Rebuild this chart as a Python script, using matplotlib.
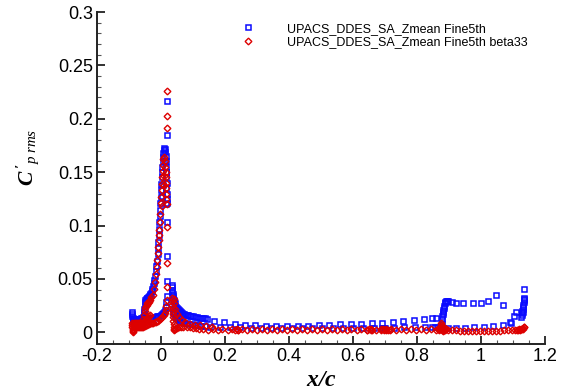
import matplotlib
matplotlib.use("Agg")
import matplotlib.pyplot as plt

# ---------------- data ----------------
# Series 1: UPACS_DDES_SA_Zmean Fine5th (blue squares)
b_slat_x = [-0.091,-0.090,-0.090,-0.089,-0.088,-0.087,-0.086,-0.085,
            -0.084,-0.081,-0.078,-0.075,-0.072,-0.069,-0.066,-0.063,-0.060,-0.057,-0.055,-0.054,-0.053,-0.052,-0.051,-0.050,-0.049,-0.047,-0.045,-0.043,-0.041,-0.039,-0.037,-0.035,-0.033,-0.031,
            -0.029,-0.027,-0.025,-0.023,-0.021,-0.019,-0.017,-0.015,-0.013,-0.011,-0.009,-0.008,-0.007,-0.006,-0.005,-0.004,-0.003,-0.002,-0.001,0.000,0.001,0.002,0.003,0.004,0.005,0.006,0.007,0.008,0.009,
            0.011,0.013,0.014,0.015,0.016,0.017,0.016,0.018,0.017,0.019,0.018,0.016,0.014,0.012,0.003,0.006,
            0.019,0.019,0.019,0.019,0.019,0.019,
            0.018,0.017,0.015,0.013,0.010,0.007,0.004,0.000,-0.004,-0.008,-0.012,-0.016,-0.020,-0.024,-0.028,-0.032,-0.036,-0.040,-0.044,-0.048]
b_slat_y = [0.017,0.019,0.015,0.013,0.012,0.011,0.011,0.012,
            0.012,0.012,0.012,0.012,0.012,0.012,0.012,0.013,0.013,0.013,0.014,0.016,0.019,0.022,0.025,0.028,0.030,0.031,0.032,0.032,0.033,0.033,0.034,0.035,0.036,0.037,
            0.039,0.041,0.043,0.046,0.049,0.053,0.057,0.062,0.067,0.073,0.079,0.085,0.091,0.097,0.103,0.109,0.115,0.121,0.127,0.133,0.139,0.145,0.150,0.155,0.160,0.164,0.168,0.171,0.173,
            0.172,0.169,0.165,0.160,0.155,0.150,0.145,0.140,0.135,0.130,0.125,0.120,0.150,0.160,0.128,0.138,
            0.217,0.185,0.121,0.103,0.071,0.048,
            0.034,0.028,0.024,0.021,0.019,0.018,0.017,0.016,0.0155,0.015,0.0148,0.0145,0.014,0.0138,0.0135,0.013,0.013,0.0128,0.0125,0.0125]

b_main_x = [0.033,0.034,0.035,0.035,0.036,0.037,0.038,0.039,0.040,0.041,0.043,0.045,0.047,0.049,0.052,0.055,0.058,0.061,0.064,0.068,0.072,0.076,0.080,0.085,0.090,0.095,0.100,0.106,0.112,0.118,0.124,0.130,0.137,0.145,
            0.036,0.038,0.040,0.043,0.046,0.050,0.055,0.060,0.066,0.073,0.080,0.088,0.096,0.105,0.115,0.126,0.138,
            0.166,0.197,0.231,0.263,0.294,0.328,0.359,0.394,0.428,0.459,0.494,0.525,0.559,0.594,0.625,0.659,0.691,0.725,0.756,0.791,0.822,0.847,0.860,
            0.152,0.184,0.216,0.248,0.280,0.312,0.344,0.376,0.408,0.440,0.472,0.504,0.536,0.568,0.600,0.632,0.664,0.690,0.696,0.700,0.728,0.760,0.792,0.824,0.846,0.856,0.866]
b_main_y = [0.044,0.042,0.040,0.038,0.036,0.034,0.032,0.030,0.029,0.028,0.027,0.025,0.024,0.023,0.022,0.021,0.020,0.019,0.018,0.0175,0.017,0.0165,0.016,0.0158,0.0155,0.015,0.0148,0.0145,0.014,0.0138,0.0135,0.0132,0.013,0.0125,
            0.022,0.019,0.017,0.015,0.0135,0.012,0.011,0.010,0.0095,0.009,0.0085,0.008,0.0075,0.007,0.0065,0.006,0.0055,
            0.0103,0.0094,0.0075,0.0066,0.0066,0.0056,0.0056,0.0056,0.0056,0.0056,0.0066,0.0066,0.0075,0.0075,0.0075,0.0084,0.0084,0.0094,0.0103,0.0112,0.0122,0.0131,0.0131,
            0.005,0.0048,0.0046,0.0045,0.0044,0.0043,0.0042,0.0042,0.0042,0.0042,0.0042,0.0042,0.0042,0.0042,0.0042,0.0042,0.0043,0.0043,0.0043,0.0044,0.0044,0.0045,0.0045,0.0046,0.0046,0.0046,0.0046]

b_flap_x = [0.874,0.876,0.877,0.878,0.879,0.880,0.881,0.882,0.883,0.884,0.886,0.888,0.891,0.894,
            0.897,0.908,0.922,0.944,0.974,1.000,1.023,1.047,1.070,1.133,
            1.125,1.127,1.128,1.129,1.130,1.131,1.132,1.133,1.134,1.135,1.133,1.131,
            1.110,1.104,1.091,1.093,1.068,1.038,1.008,0.979,0.950,0.922,0.896]
b_flap_y = [0.004,0.006,0.009,0.012,0.015,0.017,0.019,0.021,0.023,0.025,0.027,0.028,0.029,0.029,
            0.029,0.0285,0.0275,0.027,0.027,0.0275,0.0294,0.0347,0.0253,0.041,
            0.014,0.016,0.018,0.020,0.022,0.024,0.026,0.028,0.030,0.031,0.032,0.019,
            0.019,0.015,0.0097,0.0084,0.0066,0.006,0.005,0.005,0.0044,0.0044,0.004]

# Series 2: UPACS_DDES_SA_Zmean Fine5th beta33 (red diamonds)
r_slat_x = [-0.091,-0.090,-0.090,-0.089,-0.089,-0.088,-0.087,-0.086,-0.085,
            -0.084,-0.081,-0.078,-0.075,-0.072,-0.069,-0.066,-0.063,-0.060,-0.057,-0.054,-0.051,-0.048,-0.045,-0.042,-0.039,-0.036,
            -0.083,-0.080,-0.077,-0.074,-0.071,-0.068,-0.065,-0.062,-0.059,-0.056,-0.053,-0.050,-0.047,-0.044,-0.041,-0.038,-0.035,
            0.017,0.014,0.011,0.008,0.004,0.000,-0.004,-0.008,-0.012,-0.016,-0.020,-0.024,-0.028,-0.032,
            -0.055,-0.053,-0.051,-0.049,-0.047,-0.045,-0.043,-0.041,-0.039,-0.037,
            -0.034,-0.030,-0.026,-0.022,-0.019,-0.016,-0.013,-0.012,-0.010,-0.008,-0.007,-0.006,-0.005,-0.003,-0.003,0.000,
            0.001,0.002,0.003,0.004,0.005,0.006,0.007,0.009,0.011,0.013,0.014,0.015,0.016,0.015,0.017,0.016,0.018,0.008,0.004,0.010,
            0.019,0.019,0.020,0.020,0.019,0.019,0.019]
r_slat_y = [0.009,0.007,0.005,0.003,0.001,0.000,0.002,0.004,0.006,
            0.005,0.005,0.0048,0.0048,0.0046,0.0046,0.0046,0.0048,0.005,0.0052,0.0055,0.006,0.0065,0.007,0.0075,0.008,0.0085,
            0.009,0.0088,0.0086,0.0085,0.0085,0.0085,0.0086,0.0088,0.009,0.0095,0.010,0.011,0.012,0.013,0.014,0.015,0.016,
            0.025,0.021,0.018,0.016,0.014,0.013,0.012,0.011,0.0105,0.010,0.0095,0.009,0.0088,0.0085,
            0.012,0.016,0.020,0.023,0.025,0.026,0.027,0.027,0.028,0.029,
            0.030,0.033,0.035,0.041,0.047,0.055,0.061,0.0675,0.074,0.080,0.086,0.091,0.096,0.103,0.111,0.121,
            0.127,0.133,0.139,0.145,0.151,0.157,0.162,0.164,0.160,0.155,0.150,0.145,0.140,0.135,0.130,0.125,0.120,0.146,0.118,0.138,
            0.226,0.203,0.191,0.099,0.065,0.042,0.030]

r_main_x = [0.034,0.035,0.035,0.036,0.036,0.037,0.037,0.038,0.039,0.040,0.041,
            0.039,0.042,0.045,0.049,0.055,0.065,0.075,0.090,0.105,0.122,0.140,0.160,
            0.040,0.045,0.050,0.056,0.063,0.070,0.080,0.090,0.100,0.110,0.120,
            0.130,0.161,0.192,0.223,0.254,0.285,0.316,0.347,0.378,0.409,0.440,0.471,0.502,0.533,0.564,0.595,0.626,0.657,0.688,0.719,0.750,0.781,0.812,0.843,
            0.146,0.177,0.208,0.239,0.270,0.301,0.332,0.363,0.394,0.425,0.456,0.487,0.518,0.549,0.580,0.611,0.642,0.673,0.704,0.735,0.766,0.797,0.828,0.858,
            0.232,0.236,0.240,0.645,0.650,0.655,0.660,0.686,0.692,0.698,0.704,0.710,0.716]
r_main_y = [0.032,0.029,0.026,0.023,0.020,0.017,0.014,0.011,0.008,0.005,0.003,
            0.0316,0.027,0.022,0.0175,0.014,0.0112,0.0095,0.008,0.007,0.0066,0.0055,0.0048,
            0.002,0.003,0.004,0.0045,0.005,0.005,0.0048,0.0045,0.004,0.0038,0.0035,
            0.0032,0.0030,0.0030,0.0028,0.0028,0.0028,0.0028,0.0028,0.0028,0.0028,0.0028,0.0028,0.0028,0.0028,0.0028,0.0028,0.0028,0.0028,0.0028,0.0028,0.0028,0.0028,0.0030,0.0030,
            0.0024,0.0022,0.0022,0.0022,0.0022,0.0022,0.0022,0.0022,0.0022,0.0022,0.0022,0.0022,0.0022,0.0022,0.0022,0.0022,0.0022,0.0022,0.0022,0.0022,0.0022,0.0022,0.0022,0.0024,
            0.0025,0.003,0.002,0.002,0.003,0.0025,0.002,0.002,0.003,0.0022,0.0030,0.0025,0.002]

r_flap_x = [0.866,0.868,0.870,0.872,0.874,0.875,0.876,0.877,0.878,0.879,0.880,0.882,0.884,0.886,0.888,0.890,
            0.897,0.910,0.922,0.935,0.947,0.960,0.972,0.985,0.997,1.010,1.022,1.035,1.047,1.060,1.072,1.085,1.097,1.107,
            1.112,1.116,1.120,1.123,1.126,1.128,1.130,1.132,1.134,1.135]
r_flap_y = [0.003,0.002,0.004,0.003,0.005,0.007,0.009,0.006,0.004,0.002,0.001,0.003,0.002,0.004,0.002,0.003,
            0.002,0.0018,0.0018,0.0016,0.0016,0.0016,0.0016,0.0016,0.0016,0.0016,0.0016,0.0016,0.0016,0.0016,0.0018,0.0018,0.002,0.002,
            0.0022,0.0025,0.003,0.0022,0.0035,0.0028,0.004,0.0032,0.0045,0.005]

labels = ["UPACS_DDES_SA_Zmean Fine5th", "UPACS_DDES_SA_Zmean Fine5th beta33"]
x_ticks = [-0.2, 0, 0.2, 0.4, 0.6, 0.8, 1, 1.2]
x_ticklabels = ["-0.2", "0", "0.2", "0.4", "0.6", "0.8", "1", "1.2"]
y_ticks = [0, 0.05, 0.1, 0.15, 0.2, 0.25, 0.3]
y_ticklabels = ["0", "0.05", "0.1", "0.15", "0.2", "0.25", "0.3"]

# ---------------- plot ----------------
plt.rcParams['font.family'] = ['Liberation Sans', 'DejaVu Sans']
plt.rcParams['mathtext.fontset'] = 'custom'
plt.rcParams['mathtext.rm'] = 'Liberation Serif'
plt.rcParams['mathtext.it'] = 'Liberation Serif:italic'
plt.rcParams['mathtext.bf'] = 'Liberation Serif:bold:italic'

fig = plt.figure(figsize=(5.69, 3.92), dpi=100)
ax = fig.add_axes([0.1705, 0.1224, 0.7875, 0.8469])

blue = '#0a0aff'
red = '#dd0000'
bx = b_slat_x + b_main_x + b_flap_x
by = b_slat_y + b_main_y + b_flap_y
rx = r_slat_x + r_main_x + r_flap_x
ry = r_slat_y + r_main_y + r_flap_y

ax.plot(bx, by, linestyle='none', marker='s', ms=3.6, mfc='none', mec=blue, mew=1.1, label=labels[0])
ax.plot(rx, ry, linestyle='none', marker='D', ms=3.4, mfc='none', mec=red, mew=1.0, label=labels[1])

ax.set_xlim(-0.2, 1.2)
ax.set_ylim(-0.011, 0.3)
ax.set_xticks(x_ticks)
ax.set_xticklabels(x_ticklabels)
ax.set_yticks(y_ticks)
ax.set_yticklabels(y_ticklabels)
ax.set_xticks([-0.15,-0.1,-0.05,0.05,0.1,0.15,0.25,0.3,0.35,0.45,0.5,0.55,0.65,0.7,0.75,0.85,0.9,0.95,1.05,1.1,1.15], minor=True)
ax.set_yticks([0.01,0.02,0.03,0.04,0.06,0.07,0.08,0.09,0.11,0.12,0.13,0.14,0.16,0.17,0.18,0.19,0.21,0.22,0.23,0.24,0.26,0.27,0.28,0.29], minor=True)
ax.tick_params(which='major', direction='in', length=6, width=1.3, labelsize=13, colors='#222222', labelcolor='black', pad=3)
ax.tick_params(which='minor', direction='in', length=3, width=0.8, colors='#555555')
ax.spines['top'].set_visible(False)
ax.spines['right'].set_visible(False)
for s in ('left', 'bottom'):
    ax.spines[s].set_linewidth(1.4)
    ax.spines[s].set_color('#222222')

ax.set_xlabel(r"$\mathbf{x/c}$", fontsize=17, labelpad=3)
ax.set_ylabel(r"$\mathbf{C\,'}_{\mathit{p\ rms}}$", fontsize=15.5)
ax.yaxis.set_label_coords(-0.125, 0.563)

leg = ax.legend(loc='upper left', bbox_to_anchor=(0.323, 0.968), frameon=False,
                fontsize=9, handlelength=1.0, handletextpad=2.6, borderpad=0,
                borderaxespad=0, labelspacing=0.15, numpoints=1)

fig.savefig('out.png', dpi=100)
